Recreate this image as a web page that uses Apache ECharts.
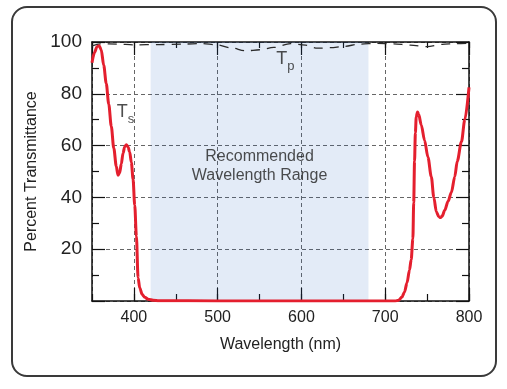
<!DOCTYPE html>
<html><head><meta charset="utf-8">
<script src="https://cdn.jsdelivr.net/npm/echarts@6/dist/echarts.min.js"></script>
<style>html,body{margin:0;padding:0;background:#fff}#c{width:507px;height:389px}</style>
</head><body><div id="c"></div>
<script>
// Ts (s-polarized transmittance) curve
const tsWavelength = [350,353,356,358.5,361,364,367,370,373,376,379,381,383,385,387,389,391,393,395,397,399,401,403,405,407,410,413,417,423,430,500,600,700,712,716,720,723,726,729,731,733,734,735,736,737,738.5,740,743,747,751,755,758,761,764,766,768,771,775,779,783,786,791,795,800];
const tsValue      = [92,96,98.2,98.6,97,91,84,76,67.5,59,52,48.6,49.5,53,57,59.5,60.3,59.5,57.5,53.5,47,37,25,9,5,2.5,1.4,0.7,0.3,0.1,0,0,0,0,0.3,1.5,3.5,7,12,16,24,38,54,65,71,73,72,68,62,55.5,48,40,34.5,32.5,32.2,32.8,35,38.5,42,48,54,61.5,70,82.5];
// Tp (p-polarized transmittance) curve
const tpWavelength = [350,360,380,400,430,460,480,500,515,534,550,567,587,605,619,635,650,670,690,710,730,750,768,785,800];
const tpValue      = [98.5,99.3,99.2,98.9,99,99.2,99.4,98.9,97.8,96.6,97,97.9,99.4,98.8,97.6,97.8,98.3,99.2,99.5,99.3,98.8,98.2,99.1,99.4,99.5];
// recommended wavelength range
const rangeStart = 420, rangeEnd = 680;
const rangeText = 'Recommended\nWavelength Range';
const rangeTextPos = [550, 52];
const tsLabelPos = [379.5, 73];
const tpLabelPos = [570, 93.5];
const xMin = 350, xMax = 800, xMinorStep = 50;
const yMin = 0, yMax = 100, yStep = 20;
const xTitle = 'Wavelength (nm)';
const yTitle = 'Percent Transmittance';

const FONT = 'Liberation Sans';
const ts = tsWavelength.map((w,i)=>[w, tsValue[i]]);
const tp = tpWavelength.map((w,i)=>[w, tpValue[i]]);

const chart = echarts.init(document.getElementById('c'));
const gridLine = {show:true, lineStyle:{color:'#666', width:1, type:[4,3]}};
const axLine = {show:true, lineStyle:{color:'#111', width:1.5}};
chart.setOption({
  animation:false,
  textStyle:{fontFamily:FONT},
  graphic:[{type:'rect', shape:{x:12, y:7, width:484, height:369, r:15}, style:{fill:'none', stroke:'#3a3a3a', lineWidth:2}, z:100}],
  grid:{left:92, right:38, top:42, bottom:88, containLabel:false},
  xAxis:[
    {type:'value', position:'bottom', min:xMin, max:xMax,
     axisLine:axLine, axisTick:{show:true, inside:true, length:13, lineStyle:{color:'#111', width:1.2}},
     axisLabel:{show:true, showMinLabel:false, margin:9, fontSize:16, color:'#222', fontFamily:FONT},
     splitLine:gridLine,
     name:xTitle, nameLocation:'middle', nameGap:36, nameTextStyle:{fontSize:16, color:'#222', fontFamily:FONT}},
    {type:'value', position:'bottom', min:xMin, max:xMax, interval:xMinorStep,
     axisLine:{show:false}, axisTick:{show:true, inside:true, length:7, lineStyle:{color:'#111', width:1.2}},
     axisLabel:{show:false}, splitLine:{show:false}},
    {type:'value', position:'top', min:xMin, max:xMax,
     axisLine:axLine, axisTick:{show:true, inside:true, length:13, lineStyle:{color:'#111', width:1.2}},
     axisLabel:{show:false}, splitLine:{show:false}},
    {type:'value', position:'top', min:xMin, max:xMax, interval:xMinorStep,
     axisLine:{show:false}, axisTick:{show:true, inside:true, length:6, lineStyle:{color:'#111', width:1.2}},
     axisLabel:{show:false}, splitLine:{show:false}}
  ],
  yAxis:[
    {type:'value', position:'left', min:yMin, max:yMax, interval:yStep,
     axisLine:axLine, axisTick:{show:true, inside:true, length:13, lineStyle:{color:'#111', width:1.2}},
     minorTick:{show:true, splitNumber:2, length:7, lineStyle:{color:'#111', width:1.2}},
     axisLabel:{show:true, showMinLabel:false, margin:10, fontSize:19, color:'#222', fontFamily:FONT},
     splitLine:gridLine,
     name:yTitle, nameLocation:'middle', nameGap:51, nameTextStyle:{fontSize:16, color:'#222', fontFamily:FONT}},
    {type:'value', position:'right', min:yMin, max:yMax, interval:yStep,
     axisLine:axLine, axisTick:{show:true, inside:true, length:13, lineStyle:{color:'#111', width:1.2}},
     minorTick:{show:true, splitNumber:2, length:7, lineStyle:{color:'#111', width:1.2}},
     axisLabel:{show:false}, splitLine:{show:false}}
  ],
  series:[
    {type:'line', data:[], silent:true,
     markArea:{silent:true, itemStyle:{color:'rgba(22,88,188,0.12)'}, data:[[{xAxis:rangeStart},{xAxis:rangeEnd}]]}},
    {type:'line', data:tp, showSymbol:false, smooth:0.3, smoothMonotone:'x',
     lineStyle:{color:'#2a2a2a', width:1.3, type:[9,7]}, z:3},
    {type:'line', data:ts, showSymbol:false, smooth:0.3, smoothMonotone:'x',
     lineStyle:{color:'#e41f2e', width:3}, z:4},
    {type:'scatter', symbolSize:0, z:5, silent:true,
     data:[
       {value:tsLabelPos, label:{show:true, position:'right', distance:0, formatter:'{t|T}{s|s}'}},
       {value:tpLabelPos, label:{show:true, position:'right', distance:0, formatter:'{t|T}{s|p}'}},
       {value:rangeTextPos, label:{show:true, position:'inside', align:'center', verticalAlign:'middle', formatter:rangeText, fontSize:16, lineHeight:19, color:'#222', fontFamily:FONT}}
     ],
     label:{rich:{t:{fontSize:18, color:'#222', fontFamily:FONT, verticalAlign:'bottom'}, s:{fontSize:13, color:'#222', fontFamily:FONT, verticalAlign:'bottom', padding:[0,0,-5,0]}}}
    }
  ]
});
</script></body></html>
